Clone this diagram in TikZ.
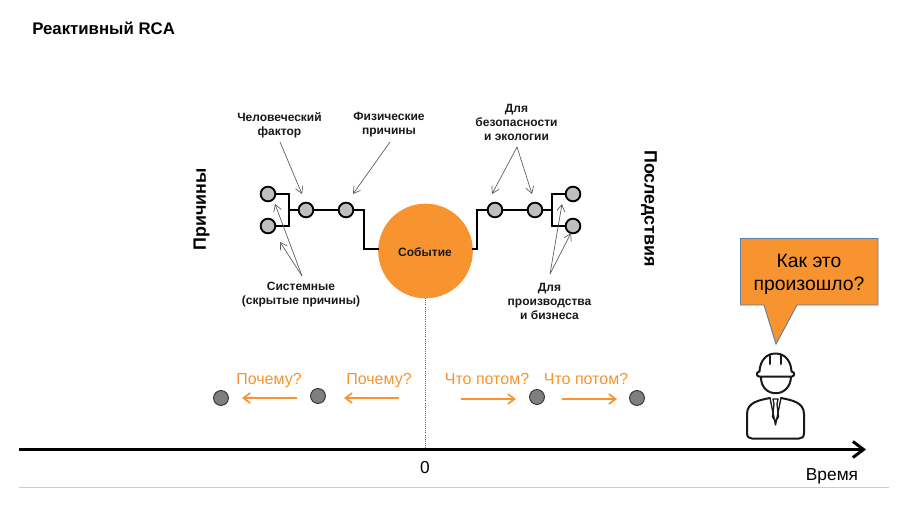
\documentclass[tikz,border=0pt]{standalone}
\usepackage{fontspec}
\setmainfont{Liberation Sans}
\usetikzlibrary{arrows.meta}
\definecolor{evorange}{HTML}{F79430}
\definecolor{dotgrey}{HTML}{BEBEBE}
\definecolor{midgrey}{HTML}{7F7F7F}
\definecolor{calloutedge}{HTML}{5B7FA6}
\tikzset{
 x=0.75pt,y=-0.75pt,
 smalldot/.style={circle,draw=black,line width=1.4pt,fill=dotgrey,minimum size=11pt,inner sep=0pt},
 timedot/.style={circle,draw=black!80,line width=0.7pt,fill=midgrey,minimum size=11.2pt,inner sep=0pt},
 wire/.style={line width=1.6pt,black},
 thinarrow/.style={draw=black!65,line width=0.5pt,-{Straight Barb[length=5pt,width=6pt,line width=0.5pt]}},
 orangearrow/.style={draw=evorange,line width=1.3pt,-{Straight Barb[length=5pt,width=7.5pt,line width=1.3pt]}},
 lab/.style={font=\bfseries\fontsize{9}{10.5}\selectfont,align=center,inner sep=0pt,text=black!90},
 orangelab/.style={font=\fontsize{12}{14}\selectfont,text=evorange,inner sep=0pt,anchor=base},
 sidelab/.style={font=\bfseries\fontsize{13.4}{15}\selectfont,inner sep=0pt},
 plainlab/.style={font=\fontsize{13}{15}\selectfont,inner sep=0pt},
 iconline/.style={line width=1.5pt,black!90,line join=round,line cap=round},
}
\begin{document}
\begin{tikzpicture}
\useasboundingbox (0,0) rectangle (907,507);
\node[font=\bfseries\fontsize{12.6}{15}\selectfont,anchor=west,inner sep=0pt] (title) at (32,28) {Реактивный RCA};

% event
\coordinate (dotTop) at (425.5,298);
\coordinate (dotBot) at (425.5,449);
\draw[black!60,line width=0.6pt,densely dotted] (dotTop) -- (dotBot);
\node[circle,fill=evorange,minimum size=71pt,inner sep=0pt] (event) at (425.5,251) {};
\node[lab,font=\bfseries\fontsize{9}{10.5}\selectfont] (eventlab) at (425,252) {Событие};

% left tree
\node[smalldot] (la) at (268,194) {};
\node[smalldot] (lb) at (268,226) {};
\node[smalldot] (lc) at (306,210) {};
\node[smalldot] (ld) at (346,210) {};
\coordinate (ljoin) at (289,210);
\coordinate (levent) at (379,249);
\draw[wire] (la) -- (289,194) -- (289,226) -- (lb);
\draw[wire] (ljoin) -- (lc);
\draw[wire] (lc) -- (ld);
\draw[wire] (ld) -- (364,210) -- (364,249) -- (levent);

% right tree
\node[smalldot] (ra) at (495,210) {};
\node[smalldot] (rb) at (535,210) {};
\node[smalldot] (rc) at (573,194) {};
\node[smalldot] (rd) at (573,226) {};
\coordinate (rjoin) at (552,210);
\coordinate (revent) at (472,249);
\draw[wire] (revent) -- (477,249) -- (477,210) -- (ra);
\draw[wire] (ra) -- (rb);
\draw[wire] (rb) -- (rjoin);
\draw[wire] (rc) -- (552,194) -- (552,226) -- (rd);

% labels
\node[lab] (human) at (279.5,125) {Человеческий\\фактор};
\node[lab] (phys) at (389,125) {Физические\\причины};
\node[lab] (system) at (301,294.5) {Системные\\(скрытые причины)};
\node[lab] (safety) at (516.5,122.5) {Для\\безопасности\\и экологии};
\node[lab] (prod) at (549.5,301.5) {Для\\производства\\и бизнеса};

\coordinate (h1) at (280,142);
\coordinate (h2) at (302,194);
\coordinate (p1) at (390,142);
\coordinate (p2) at (353,194);
\coordinate (s0) at (302,276);
\coordinate (s1) at (275,204);
\coordinate (s2) at (280,242);
\coordinate (b0) at (517,147);
\coordinate (b1) at (492,194);
\coordinate (b2) at (532,194);
\coordinate (c0) at (550,274);
\coordinate (c1) at (562,204);
\coordinate (c2) at (571,233);
\draw[thinarrow] (h1) -- (h2);
\draw[thinarrow] (p1) -- (p2);
\draw[thinarrow] (s0) -- (s1);
\draw[thinarrow] (s0) -- (s2);
\draw[thinarrow] (b0) -- (b1);
\draw[thinarrow] (b0) -- (b2);
\draw[thinarrow] (c0) -- (c1);
\draw[thinarrow] (c0) -- (c2);

% side labels
\node[sidelab,rotate=90] (causes) at (201.5,209.5) {Причины};
\node[sidelab,rotate=-90] (effects) at (649,208.5) {Последствия};

% timeline
\node[timedot] (t1) at (221,398) {};
\node[timedot] (t2) at (318,396) {};
\node[timedot] (t3) at (537,397) {};
\node[timedot] (t4) at (637,398) {};
\coordinate (a1s) at (297,398); \coordinate (a1e) at (242,398);
\coordinate (a2s) at (399,398); \coordinate (a2e) at (344,398);
\coordinate (a3s) at (461,399); \coordinate (a3e) at (516,399);
\coordinate (a4s) at (562,399); \coordinate (a4e) at (617,399);
\draw[orangearrow] (a1s) -- (a1e);
\draw[orangearrow] (a2s) -- (a2e);
\draw[orangearrow] (a3s) -- (a3e);
\draw[orangearrow] (a4s) -- (a4e);
\node[orangelab] (w1) at (269,384) {Почему?};
\node[orangelab] (w2) at (379,384) {Почему?};
\node[orangelab] (n1) at (487,384) {Что потом?};
\node[orangelab] (n2) at (586,384) {Что потом?};

% axis
\coordinate (ax0) at (19,449.5);
\coordinate (ax1) at (866,449.5);
\draw[black,line width=2.2pt,-{Straight Barb[length=8pt,width=12pt,line width=2.2pt]}] (ax0) -- (ax1);
\node[plainlab] (zero) at (425,467.5) {0};
\node[plainlab] (time) at (832,476) {Время};
\coordinate (g0) at (19,487.5);
\coordinate (g1) at (889,487.5);
\draw[black!20,line width=0.7pt] (g0) -- (g1);

% callout
\path[fill=evorange,draw=calloutedge,line width=0.7pt]
 (740.5,238.5) -- (878,238.5) -- (878,305) -- (797,305) -- (776,344) -- (764,305) -- (740.5,305) -- cycle;
\node[font=\fontsize{14.5}{17.3}\selectfont,align=center,inner sep=0pt] (q) at (809,274.5) {Как это\\произошло?};

% worker icon
\draw[iconline] (761,376) .. controls (760,399) and (791,399) .. (791,376);
\draw[iconline,fill=white] (759,376.5) .. controls (756,376) and (756,372) .. (759.5,371.5)
  .. controls (760,361) and (766,353.5) .. (775.5,353.5) .. controls (785,353.5) and (791,361) .. (791.5,371.5)
  .. controls (795,372) and (795,376) .. (792,376.5) -- cycle;
\draw[iconline] (770,354.5) -- (770,364);
\draw[iconline] (781,354.5) -- (781,364);
\draw[iconline] (770,398) .. controls (760,400) and (747,402) .. (747,414) -- (747,433) .. controls (747,437) and (749,438.5) .. (752,438.5) -- (799,438.5) .. controls (802,438.5) and (804,437) .. (804,433) -- (804,414) .. controls (804,402) and (791,400) .. (781,398);
\draw[iconline,line width=1pt] (770,398) -- (775.5,425) -- (781,398);
\draw[iconline,line width=1pt] (773,399) -- (778,399) -- (777,404) -- (778.5,417) -- (775.5,421) -- (772.5,417) -- (774,404) -- cycle;
\end{tikzpicture}
\end{document}
